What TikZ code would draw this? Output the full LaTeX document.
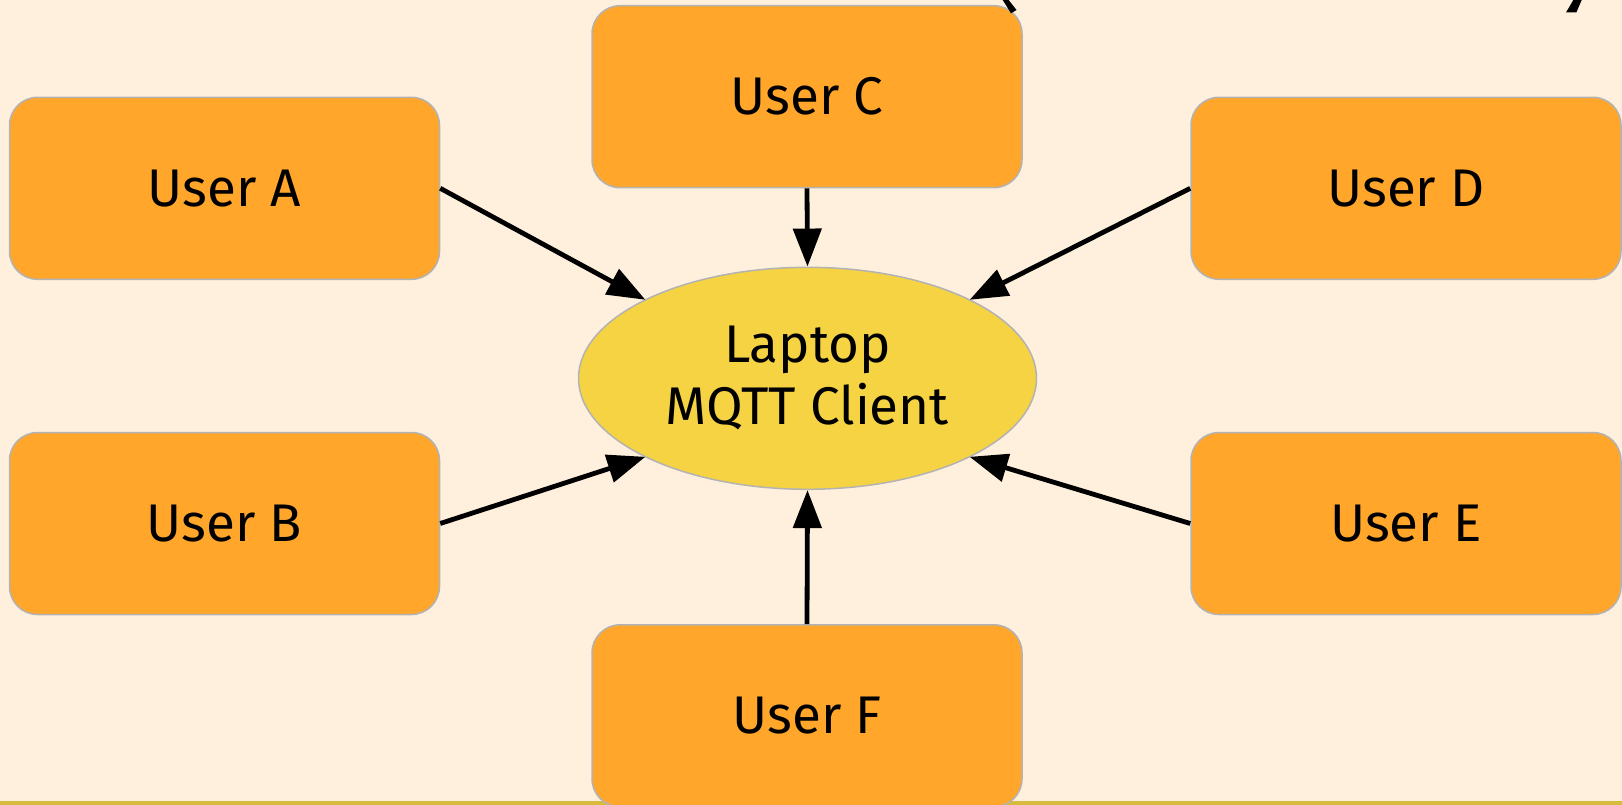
\documentclass[tikz,border=0pt]{standalone}
\usepackage{fontspec}
\setmainfont{Fira Sans}
\usetikzlibrary{shapes.geometric,arrows.meta,calc}
\definecolor{bgcream}{HTML}{FFF0DE}
\definecolor{userorange}{HTML}{FFA62B}
\definecolor{hubyellow}{HTML}{F5D342}
\definecolor{boxedge}{HTML}{B3B3B3}
\definecolor{stripgold}{HTML}{D8BA3C}
\begin{document}
\begin{tikzpicture}[x=1pt,y=-1pt,
  userbox/.style={draw=boxedge, line width=1.5pt, fill=userorange,
    rounded corners=28pt, minimum width=430pt, minimum height=182pt,
    inner sep=0pt, font=\fontsize{53}{62}\selectfont},
  hub/.style={ellipse, draw=boxedge, line width=1.5pt, fill=hubyellow,
    minimum width=458pt, minimum height=222pt, inner sep=0pt,
    align=center, font=\fontsize{53}{62}\selectfont},
  link/.style={line width=4.8pt, -{Triangle[length=38pt,width=28pt]}},
  edgestroke/.style={fill=black, draw=none}]

% canvas
\useasboundingbox (0,0) rectangle (1622,805);
\fill[bgcream] (0,0) rectangle (1622,805);
\fill[stripgold] (0,801) rectangle (1622,805);

% senders
\node[userbox] (A) at (224.5,188.3) {User A};
\node[userbox] (B) at (224.5,523.5) {User B};
\node[userbox] (C) at (807,96.7) {User C};
\node[userbox] (D) at (1406,188.3) {User D};
\node[userbox] (E) at (1406,523.5) {User E};
\node[userbox] (F) at (807,715.8) {User F};

% receiving client
\node[hub] (hub) at (807.5,378.3) {Laptop\\MQTT Client};

% points on the ellipse where the links land
\coordinate (hubNW) at ($(hub.center)+(-162.1,-78.5)$);
\coordinate (hubNE) at ($(hub.center)+(162.1,-78.5)$);
\coordinate (hubSW) at ($(hub.center)+(-162.1,78.5)$);
\coordinate (hubSE) at ($(hub.center)+(162.1,78.5)$);

% links
\draw[link] (A.east) -- (hubNW);
\draw[link] (B.east) -- (hubSW);
\draw[link] (C.south) -- (hub.north);
\draw[link] (D.west) -- (hubNE);
\draw[link] (E.west) -- (hubSE);
\draw[link] (F.north) -- (hub.south);

% strokes cut off at the top edge
\fill[edgestroke] (1002.7,0) -- (1008.6,0) -- (1016.5,10) -- (1011,13.3) -- cycle;
\fill[edgestroke] (1573.3,0) -- (1581.7,0) -- (1576.3,12.5) -- (1566,12.5) -- cycle;
\end{tikzpicture}
\end{document}
